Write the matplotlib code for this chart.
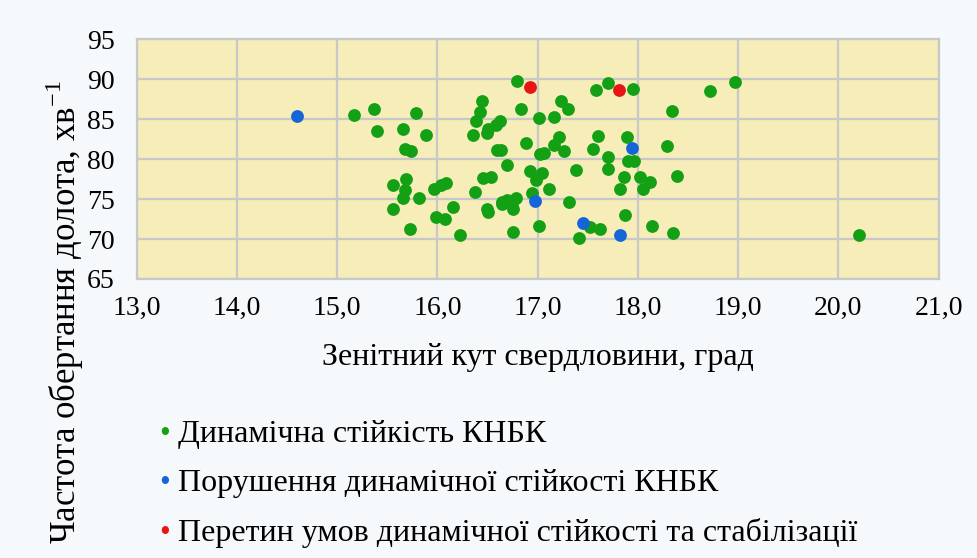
import numpy as np
import matplotlib
matplotlib.use("Agg")
import matplotlib.pyplot as plt
from matplotlib.ticker import FuncFormatter

# dynamic stability (green)
stable_x = [15.17, 15.37, 15.40, 15.66, 15.68, 15.74, 15.69, 15.56, 15.68, 15.66,
            15.56, 15.73, 15.79, 15.89, 15.82, 15.99, 16.08, 16.16, 16.23, 15.97,
            16.04, 16.09, 16.37, 16.45, 16.53, 16.49, 16.50, 16.44, 16.42, 16.38,
            16.35, 16.50, 16.49, 16.58, 16.62, 16.59, 16.63, 16.69, 16.79, 16.83,
            16.88, 17.01, 17.16, 17.23, 17.30, 17.21, 17.16, 17.26, 17.02, 17.06,
            16.92, 17.04, 16.98, 16.94, 17.11, 16.64, 16.69, 16.78, 16.64, 16.75,
            16.74, 16.75, 17.01, 17.31, 17.38, 17.52, 17.62, 17.41, 17.58, 17.70,
            17.95, 17.60, 17.55, 17.70, 17.70, 17.89, 17.90, 17.96, 17.86, 18.02,
            17.82, 18.05, 18.12, 17.87, 18.14, 18.35, 18.34, 18.29, 18.39, 18.72,
            18.97, 20.21]
stable_y = [85.5, 86.25, 83.5, 83.7, 81.2, 81.0, 77.5, 76.75, 76.1, 75.1,
            73.75, 71.2, 85.75, 83.0, 75.1, 72.8, 72.5, 74.0, 70.5, 76.3,
            76.75, 76.95, 75.9, 77.6, 77.75, 73.8, 73.4, 87.3, 85.9, 84.75,
            82.95, 83.8, 83.2, 84.3, 84.8, 81.1, 81.1, 79.25, 89.8, 86.25,
            82.0, 85.1, 85.25, 87.3, 86.25, 82.7, 81.7, 81.0, 80.6, 80.8,
            78.5, 78.2, 77.4, 75.8, 76.3, 74.66, 74.9, 75.1, 74.4, 73.8,
            74.5, 70.9, 71.6, 74.6, 78.6, 71.5, 71.2, 70.1, 88.6, 89.55,
            88.7, 82.9, 81.2, 80.3, 78.7, 82.7, 79.7, 79.7, 77.7, 77.7,
            76.25, 76.25, 77.1, 73.0, 71.6, 70.8, 86.0, 81.6, 77.9, 88.5,
            89.6, 70.5]

# loss of dynamic stability (blue)
broken_x = [14.60, 16.97, 17.45, 17.94, 17.82]
broken_y = [85.4, 74.8, 71.95, 81.4, 70.5]

# intersection of conditions (red)
cross_x = [16.92, 17.81]
cross_y = [89.0, 88.6]

labels = ["Динамічна стійкість КНБК",
          "Порушення динамічної стійкості КНБК",
          "Перетин умов динамічної стійкості та стабілізації"]
colors = ["#14a014", "#1565d8", "#e81515"]

plt.rcParams['font.family'] = ['Liberation Serif', 'DejaVu Serif']

fig = plt.figure(figsize=(9.77, 5.58), dpi=100)
fig.patch.set_facecolor("#f6f9fb")
ax = fig.add_axes([0.14, 0.50, 0.8206, 0.43])
ax.set_facecolor("#f7edb9")

ax.scatter(stable_x, stable_y, s=85, color=colors[0], zorder=3, linewidths=0)
ax.scatter(broken_x, broken_y, s=85, color=colors[1], zorder=3, linewidths=0)
ax.scatter(cross_x, cross_y, s=85, color=colors[2], zorder=3, linewidths=0)

ax.set_xlim(13, 21)
ax.set_ylim(65, 95)
ax.set_xticks(np.arange(13, 21.5, 1))
ax.set_yticks(np.arange(65, 96, 5))
ax.xaxis.set_major_formatter(FuncFormatter(lambda v, p: f"{v:.1f}".replace(".", ",")))
ax.grid(True, color="#c8c8c8", linewidth=1.6)
ax.set_axisbelow(True)
for sp in ax.spines.values():
    sp.set_color("#c8c8c8")
    sp.set_linewidth(1.6)
ax.tick_params(length=0, labelsize=20)
ax.tick_params(axis="x", pad=12)
ax.tick_params(axis="y", pad=16)

ax.set_xlabel("Зенітний кут свердловини, град", fontsize=23, labelpad=16)
fig.text(0.066, 0.44, "Частота обертання долота, хв$^{\\mathregular{-1}}$",
         rotation=90, fontsize=25, ha="center", va="center")

for i, (lab, c) in enumerate(zip(labels, colors)):
    yy = 0.222 - i * 0.089
    fig.text(0.169, yy, "\u2022", color=c, fontsize=22, ha="center", va="center")
    fig.text(0.182, yy, lab, fontsize=23, ha="left", va="center")

fig.savefig("out.png", dpi=100, facecolor=fig.get_facecolor())
